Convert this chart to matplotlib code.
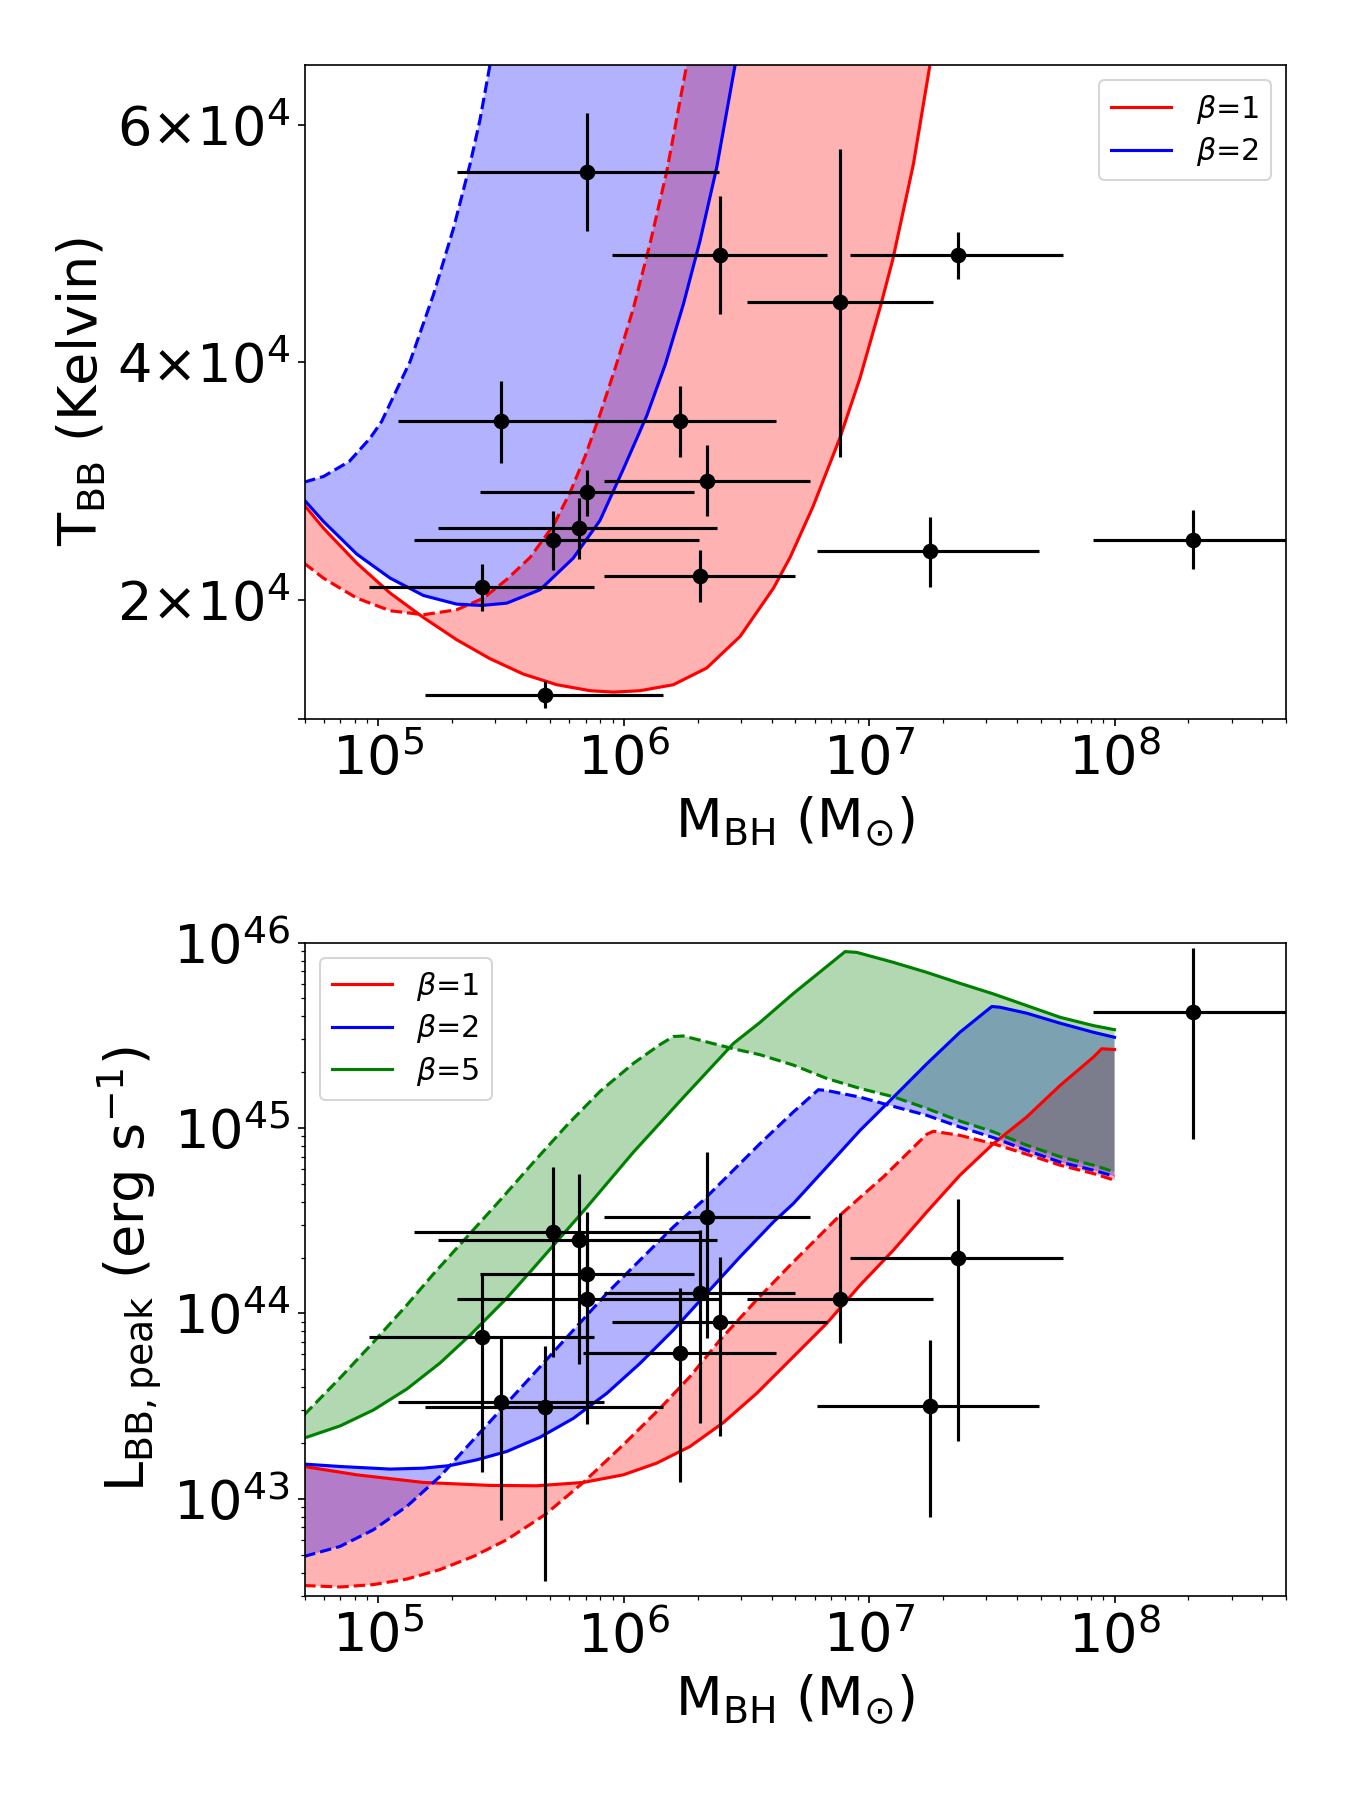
import numpy as np
import matplotlib
matplotlib.use("Agg")
import matplotlib.pyplot as plt

# ---- observed sources (log10 M_BH, T_BB, log10 L_BB,peak) ----
logM = [5.849, 6.392, 7.361, 6.880, 5.500, 6.230, 6.340, 5.849, 5.819, 5.711, 5.421, 6.311, 7.248, 8.321, 5.679]
logM_lo = [5.322, 5.951, 6.922, 6.501, 5.081, 5.833, 5.921, 5.412, 5.242, 5.143, 4.962, 5.921, 6.789, 7.911, 5.190]
logM_hi = [6.388, 6.830, 7.789, 7.259, 5.920, 6.621, 6.759, 6.288, 6.379, 6.308, 5.878, 6.696, 7.692, 8.730, 6.159]
T_bb = [56050, 49040, 49040, 45050, 35010, 35010, 30017, 29032, 26027, 25050, 21060, 22020, 24075, 25040, 12003]
T_lo = [51060, 44040, 47045, 32000, 31500, 32000, 27010, 27010, 23450, 22525, 19015, 19800, 21080, 22630, 10900]
T_hi = [60960, 54010, 51000, 57960, 38460, 38040, 32990, 30940, 28550, 27490, 23000, 24210, 26970, 27550, 13200]
logL = [44.075, 43.952, 44.296, 44.077, 43.521, 43.788, 44.517, 44.212, 44.398, 44.439, 43.874, 44.108, 43.499, 45.624, 43.494]
logL_lo = [43.404, 43.339, 43.314, 43.842, 42.883, 43.093, 43.865, 43.850, 43.727, 43.766, 43.147, 43.411, 42.900, 44.943, 42.558]
logL_hi = [44.400, 44.305, 44.619, 44.542, 43.865, 44.135, 44.872, 44.547, 44.749, 44.789, 44.212, 44.452, 43.858, 45.972, 43.826]

# ---- model curves, temperature panel ----
T_red_solid_lm = [4.697, 4.776, 4.912, 5.048, 5.183, 5.319, 5.455, 5.591, 5.727, 5.863, 5.958, 6.066,
                  6.202, 6.338, 6.474, 6.610, 6.678, 6.771, 6.881, 6.963, 7.047, 7.096, 7.180, 7.250]
T_red_solid = [27997, 26027, 23080, 20556, 18510, 16633, 15034, 13737, 12845, 12340, 12222, 12340,
               12845, 14251, 16911, 20976, 23577, 27837, 33636, 38687, 44781, 48620, 56641, 65300]
T_red_dash_lm = [4.697, 4.776, 4.912, 5.048, 5.183, 5.319, 5.428, 5.523, 5.618, 5.713, 5.781, 5.842,
                 5.903, 5.971, 6.039, 6.107, 6.175, 6.259]
T_red_dash = [23080, 21818, 20135, 19074, 18737, 19158, 20135, 21709, 23561, 26254, 29032, 32062,
              35598, 39891, 44545, 49992, 56052, 65300]
T_blue_solid_lm = [4.697, 4.776, 4.912, 5.048, 5.183, 5.319, 5.421, 5.523, 5.659, 5.794, 5.903, 5.998,
                   6.094, 6.169, 6.243, 6.311, 6.379, 6.456]
T_blue_solid = [28418, 26591, 23838, 21818, 20362, 19630, 19520, 19714, 20842, 23502, 26676, 30993,
                35513, 39806, 44891, 50244, 56431, 65300]
T_blue_dash_lm = [4.697, 4.776, 4.881, 4.966, 5.013, 5.129, 5.224, 5.306, 5.374, 5.414, 5.457]
T_blue_dash = [29899, 30379, 31642, 33603, 35008, 40059, 45673, 51280, 56726, 60429, 65300]

# ---- model curves, luminosity panel (log10 L) ----
L_red_solid_lm = [4.697, 4.912, 5.183, 5.455, 5.645, 5.835, 5.998, 6.134, 6.270, 6.406, 6.542, 6.691,
                  6.827, 6.963, 7.099, 7.235, 7.370, 7.506, 7.642, 7.778, 7.914, 7.948, 8.000]
L_red_solid = [43.174, 43.129, 43.088, 43.072, 43.070, 43.088, 43.129, 43.192, 43.282, 43.411, 43.569, 43.766,
               43.946, 44.152, 44.341, 44.547, 44.745, 44.915, 45.059, 45.229, 45.382, 45.427, 45.423]
L_red_dash_lm = [4.697, 4.844, 4.980, 5.116, 5.251, 5.387, 5.523, 5.679, 5.835, 5.998, 6.148, 6.270,
                 6.392, 6.541, 6.678, 6.881, 7.058, 7.235, 7.262, 7.370, 7.506, 7.642, 7.778, 7.914, 8.000]
L_red_dash = [42.532, 42.524, 42.537, 42.567, 42.618, 42.689, 42.779, 42.914, 43.088, 43.291, 43.488, 43.659,
              43.856, 44.072, 44.260, 44.529, 44.736, 44.966, 44.982, 44.960, 44.915, 44.858, 44.799, 44.754, 44.718]
L_blue_solid_lm = [4.697, 4.844, 5.048, 5.183, 5.292, 5.401, 5.523, 5.659, 5.795, 5.931, 6.066, 6.202,
                   6.338, 6.474, 6.610, 6.691, 6.827, 6.963, 7.072, 7.235, 7.370, 7.500, 7.533, 7.642,
                   7.778, 7.914, 8.000]
L_blue_solid = [43.187, 43.174, 43.160, 43.165, 43.179, 43.210, 43.255, 43.332, 43.434, 43.569, 43.730, 43.910,
                44.108, 44.305, 44.493, 44.592, 44.789, 44.987, 45.130, 45.346, 45.516, 45.655, 45.651, 45.619,
                45.565, 45.516, 45.489]
L_blue_dash_lm = [4.697, 4.844, 4.980, 5.116, 5.251, 5.387, 5.523, 5.659, 5.795, 5.931, 6.066, 6.202,
                  6.324, 6.555, 6.691, 6.793, 6.827, 6.963, 7.099, 7.235, 7.370, 7.506, 7.642, 7.778,
                  7.914, 8.000]
L_blue_dash = [42.689, 42.743, 42.833, 42.959, 43.120, 43.318, 43.515, 43.712, 43.910, 44.108, 44.287, 44.466,
               44.610, 44.915, 45.086, 45.206, 45.202, 45.166, 45.116, 45.068, 45.005, 44.948, 44.879, 44.816,
               44.772, 44.739]
L_green_solid_lm = [4.697, 4.844, 4.980, 5.116, 5.251, 5.374, 5.523, 5.632, 5.849, 6.039, 6.243, 6.447,
                    6.555, 6.691, 6.902, 6.949, 7.099, 7.235, 7.370, 7.506, 7.642, 7.778, 7.914, 8.000]
L_green_solid = [43.327, 43.393, 43.479, 43.592, 43.732, 43.883, 44.082, 44.244, 44.572, 44.869, 45.165, 45.456,
                 45.569, 45.725, 45.951, 45.947, 45.893, 45.839, 45.780, 45.723, 45.660, 45.597, 45.552, 45.530]
L_green_dash_lm = [4.697, 4.844, 4.980, 5.116, 5.224, 5.360, 5.496, 5.632, 5.768, 5.903, 6.039, 6.148,
                   6.202, 6.243, 6.447, 6.555, 6.691, 6.827, 6.963, 7.099, 7.235, 7.370, 7.506, 7.642,
                   7.778, 7.914, 8.000]
L_green_dash = [43.452, 43.652, 43.845, 44.045, 44.212, 44.411, 44.610, 44.815, 45.014, 45.197, 45.348, 45.450,
                45.493, 45.496, 45.427, 45.395, 45.339, 45.267, 45.213, 45.168, 45.105, 45.037, 44.979, 44.907,
                44.845, 44.799, 44.763]


def p10(a):
    return 10 ** np.asarray(a)


def band(ax, xs, ys, xd, yd, color, label):
    # shaded region between the solid and the dashed model curve
    px = np.concatenate([xs, xd[::-1]])
    py = np.concatenate([ys, yd[::-1]])
    ax.fill(px, py, color=color, alpha=0.3, lw=0)
    ax.plot(xs, ys, '-', color=color, lw=1.5, label=label)
    ax.plot(xd, yd, '--', color=color, lw=1.5)


fig, (ax1, ax2) = plt.subplots(2, 1, figsize=(9, 12), dpi=150)
fig.subplots_adjust(left=0.2256, right=0.9526, top=0.9637, bottom=0.1135, hspace=0.343)

M = p10(logM)
xerr = [M - p10(logM_lo), p10(logM_hi) - M]

# top panel
band(ax1, p10(T_red_solid_lm), np.array(T_red_solid, float), p10(T_red_dash_lm), np.array(T_red_dash, float),
     'red', r'$\beta$=1')
band(ax1, p10(T_blue_solid_lm), np.array(T_blue_solid, float), p10(T_blue_dash_lm), np.array(T_blue_dash, float),
     'blue', r'$\beta$=2')
T = np.array(T_bb, float)
ax1.errorbar(M, T, xerr=xerr, yerr=[T - np.array(T_lo), np.array(T_hi) - T],
             fmt='o', color='k', ms=6.5, elinewidth=1.5, capsize=0, zorder=5)
ax1.set_xscale('log')
ax1.set_xlim(5e4, 5e8)
ax1.set_ylim(1e4, 6.5e4)
ax1.set_yticks([1e4, 2e4, 4e4, 6e4])
ax1.set_yticklabels(['', r'$\mathdefault{2{\times}10^{4}}$', r'$\mathdefault{4{\times}10^{4}}$',
                     r'$\mathdefault{6{\times}10^{4}}$'])
ax1.set_xlabel(r'M$_{\rm BH}$ (M$_{\odot}$)', fontsize=26)
ax1.set_ylabel(r'T$_{\rm BB}$ (Kelvin)', fontsize=26)
ax1.legend(loc='upper right', fontsize=14.5, labelspacing=0.32)

# bottom panel
band(ax2, p10(L_red_solid_lm), p10(L_red_solid), p10(L_red_dash_lm), p10(L_red_dash), 'red', r'$\beta$=1')
band(ax2, p10(L_blue_solid_lm), p10(L_blue_solid), p10(L_blue_dash_lm), p10(L_blue_dash), 'blue', r'$\beta$=2')
band(ax2, p10(L_green_solid_lm), p10(L_green_solid), p10(L_green_dash_lm), p10(L_green_dash), 'green', r'$\beta$=5')
L = p10(logL)
ax2.errorbar(M, L, xerr=xerr, yerr=[L - p10(logL_lo), p10(logL_hi) - L],
             fmt='o', color='k', ms=6.5, elinewidth=1.5, capsize=0, zorder=5)
ax2.set_xscale('log')
ax2.set_yscale('log')
ax2.set_xlim(5e4, 5e8)
ax2.set_ylim(3e42, 1e46)
ax2.set_xlabel(r'M$_{\rm BH}$ (M$_{\odot}$)', fontsize=26)
ax2.set_ylabel(r'L$_{\rm BB,peak}$ (erg s$^{-1}$)', fontsize=26)
ax2.legend(loc='upper left', fontsize=14.5, labelspacing=0.32)

for ax in (ax1, ax2):
    ax.tick_params(axis='both', which='major', labelsize=26)

fig.savefig('out.png', dpi=150)
